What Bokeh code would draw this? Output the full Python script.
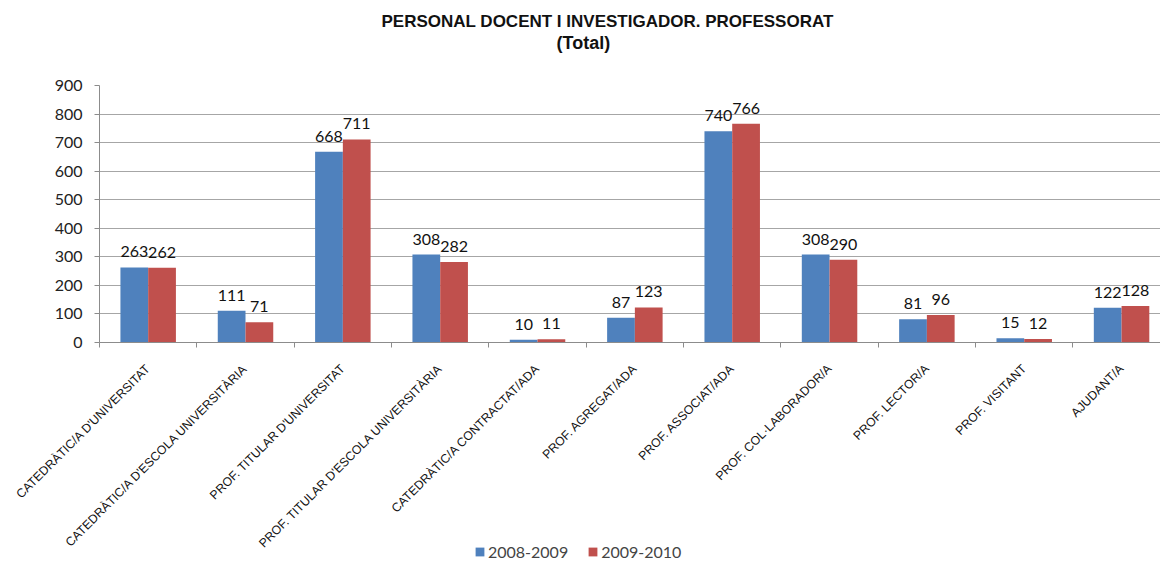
import numpy as np
from math import pi
from bokeh.plotting import figure
from bokeh.layouts import column
from bokeh.models import (Range1d, LinearAxis, FixedTicker, Grid, ColumnDataSource,
                          Legend, LegendItem, Title, LabelSet)
from bokeh.core.properties import value
from bokeh.embed import file_html
from bokeh.resources import INLINE

categories = ["CATEDRÀTIC/A D'UNIVERSITAT", "CATEDRÀTIC/A D'ESCOLA UNIVERSITÀRIA",
              "PROF. TITULAR D'UNIVERSITAT", "PROF. TITULAR D'ESCOLA UNIVERSITÀRIA",
              "CATEDRÀTIC/A CONTRACTAT/ADA", "PROF. AGREGAT/ADA", "PROF. ASSOCIAT/ADA",
              "PROF. COL·LABORADOR/A", "PROF. LECTOR/A", "PROF. VISITANT", "AJUDANT/A"]
series_names = ["2008-2009", "2009-2010"]
v_2008_2009 = [263, 111, 668, 308, 10, 87, 740, 308, 81, 15, 122]
v_2009_2010 = [262, 71, 711, 282, 11, 123, 766, 290, 96, 12, 128]
y_ticks = [0, 100, 200, 300, 400, 500, 600, 700, 800, 900]

BLUE = "#4F81BD"
RED = "#C0504D"
GRAY = "#8C8C8C"
NUM_FONT = "Lato"
TXT_FONT = "Liberation Sans"

centers = np.arange(len(categories)) + 0.5
bw = 0.285

src = ColumnDataSource(dict(
    xb=centers - bw / 2, xr=centers + bw / 2,
    a=v_2008_2009, b=v_2009_2010,
    la=[str(v) for v in v_2008_2009], lb=[str(v) for v in v_2009_2010],
))

p = figure(width=1160, height=559, x_range=Range1d(0, 10.9), y_range=Range1d(0, 900),
           output_backend="svg", toolbar_location=None, title=None,
           x_axis_type=None, y_axis_type=None,
           min_border_left=99, min_border_right=0, min_border_top=85, min_border_bottom=217)
p.outline_line_color = None
p.background_fill_color = "white"

# titles (added nearest-first): spacer, subtitle, main title
p.add_layout(Title(text=" ", text_font_size="1px", standoff=30), "above")
p.add_layout(Title(text="(Total)", align="left", offset=457, standoff=0,
                   text_font=TXT_FONT, text_font_style="bold", text_font_size="18px",
                   text_color="#111111"), "above")
p.add_layout(Title(text="PERSONAL DOCENT I INVESTIGADOR. PROFESSORAT", align="left",
                   offset=282, standoff=0,
                   text_font=TXT_FONT, text_font_style="bold", text_font_size="17px",
                   text_color="#111111"), "above")

# y axis
yaxis = LinearAxis(ticker=FixedTicker(ticks=y_ticks))
yaxis.axis_line_color = GRAY
yaxis.major_tick_line_color = GRAY
yaxis.major_tick_in = 0
yaxis.major_tick_out = 5
yaxis.minor_tick_line_color = None
yaxis.major_label_standoff = 12
yaxis.major_label_text_font = NUM_FONT
yaxis.major_label_text_font_size = "16px"
yaxis.major_label_text_color = "#222222"
p.add_layout(yaxis, "left")
p.add_layout(Grid(dimension=1, ticker=yaxis.ticker, grid_line_color="#A6A6A6"))

# x axis: tick marks between categories
tick_axis = LinearAxis(ticker=FixedTicker(ticks=list(range(0, len(categories) + 1))))
tick_axis.axis_line_color = GRAY
tick_axis.major_tick_line_color = GRAY
tick_axis.major_tick_in = 0
tick_axis.major_tick_out = 5
tick_axis.minor_tick_line_color = None
tick_axis.major_label_overrides = {i: "" for i in range(0, len(categories) + 1)}
tick_axis.major_label_text_font_size = "1px"
tick_axis.major_label_standoff = 0
p.add_layout(tick_axis, "below")

# x axis: category labels
label_axis = LinearAxis(ticker=FixedTicker(ticks=list(centers)))
label_axis.axis_line_color = None
label_axis.major_tick_line_color = None
label_axis.minor_tick_line_color = None
label_axis.major_label_overrides = {float(c): cat for c, cat in zip(centers, categories)}
label_axis.major_label_orientation = pi / 4
label_axis.major_label_text_font = TXT_FONT
label_axis.major_label_text_font_size = "12.3px"
label_axis.major_label_text_color = "#111111"
label_axis.major_label_standoff = 13
p.add_layout(label_axis, "below")

r1 = p.vbar(x="xb", top="a", width=bw, source=src, fill_color=BLUE, line_color=None)
r2 = p.vbar(x="xr", top="b", width=bw, source=src, fill_color=RED, line_color=None)

for xcol, ycol, tcol in (("xb", "a", "la"), ("xr", "b", "lb")):
    p.add_layout(LabelSet(x=xcol, y=ycol, text=tcol, source=src, y_offset=10,
                          text_align="center", text_baseline="bottom",
                          text_font=value(NUM_FONT), text_font_size=value("16px"),
                          text_color="#111111"))

# legend strip (separate, transparent figure overlapping the bottom of the chart)
pl = figure(width=1160, height=20, x_range=Range1d(-100, -99), y_range=Range1d(0, 1),
            output_backend="svg", toolbar_location=None, title=None,
            x_axis_type=None, y_axis_type=None,
            min_border_left=0, min_border_right=0, min_border_top=0, min_border_bottom=0,
            styles={"margin-top": "-18px"})
pl.outline_line_color = None
pl.background_fill_alpha = 0
pl.border_fill_alpha = 0
pl.xgrid.visible = False
pl.ygrid.visible = False
g1 = pl.vbar(x="xb", top="a", width=bw, source=src, fill_color=BLUE, line_color=None)
g2 = pl.vbar(x="xr", top="b", width=bw, source=src, fill_color=RED, line_color=None)
legend = Legend(items=[LegendItem(label=series_names[0], renderers=[g1]),
                       LegendItem(label=series_names[1], renderers=[g2])],
                orientation="horizontal", location=(375, 0),
                glyph_width=11, glyph_height=11, label_height=16,
                label_text_font=NUM_FONT, label_text_font_size="16px",
                label_standoff=3, spacing=19, padding=0, margin=0,
                border_line_color=None, background_fill_alpha=0)
pl.add_layout(legend)

open("out.html", "w").write(file_html(column(p, pl, spacing=0), INLINE))
